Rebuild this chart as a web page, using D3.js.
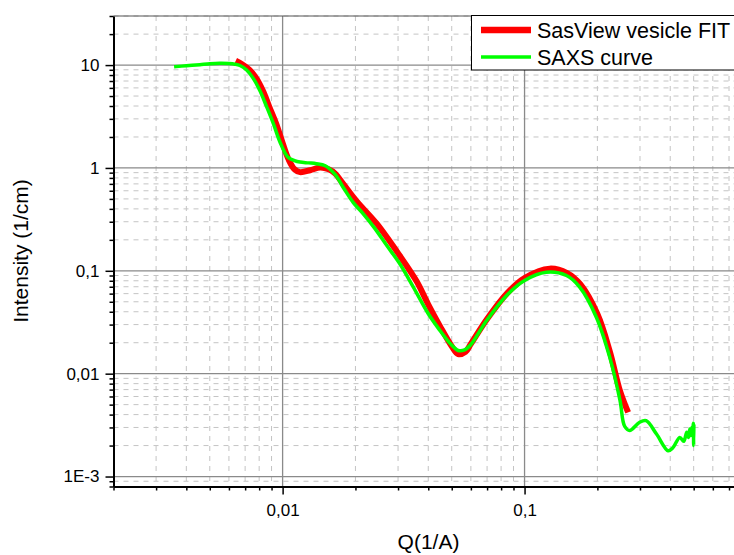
<!DOCTYPE html>
<html>
<head>
<meta charset="utf-8">
<script src="https://cdn.jsdelivr.net/npm/d3@7"></script>
<style>
  body { margin: 0; background: #fff; }
  svg { display: block; }
  text { font-family: "Liberation Sans", Arial, sans-serif; fill: #000; }
</style>
</head>
<body>
<div id="chart"></div>
<script>
// SasView fit (red)
const fitQ = [0.0064, 0.0068, 0.0073, 0.0078, 0.0083, 0.0088, 0.0094, 0.0100, 0.0106, 0.0112,
              0.0118, 0.0130, 0.0143, 0.0155, 0.0165, 0.0178, 0.0203, 0.0244, 0.0305, 0.0358,
              0.040, 0.0447, 0.050, 0.0532, 0.057, 0.060, 0.070, 0.085, 0.100, 0.127,
              0.150, 0.170, 0.200, 0.225, 0.248, 0.268];
const fitI = [11.0, 10.2, 9.0, 7.4, 5.6, 3.95, 2.7, 1.75, 1.2, 0.97,
              0.91, 0.95, 1.01, 0.97, 0.88, 0.70, 0.47, 0.29, 0.14, 0.079,
              0.047, 0.029, 0.0185, 0.0155, 0.0163, 0.0195, 0.034, 0.061, 0.085, 0.105,
              0.095, 0.074, 0.038, 0.0165, 0.0068, 0.0042];

// measured SAXS curve (green)
const saxsQ = [0.00356, 0.0040, 0.00455, 0.0050, 0.0055, 0.0060, 0.00635, 0.00666, 0.0071, 0.00756,
               0.00806, 0.00859, 0.00915, 0.00975, 0.0105, 0.0112, 0.0118, 0.0128, 0.0138, 0.0150,
               0.0165, 0.0180, 0.0196, 0.0215, 0.0240, 0.0270, 0.0305, 0.0347, 0.0400, 0.0447,
               0.0492, 0.0532, 0.0565, 0.0600, 0.0697, 0.0843, 0.100, 0.123, 0.149, 0.169,
               0.198, 0.225, 0.248, 0.259, 0.272, 0.299, 0.318, 0.351, 0.392, 0.410,
               0.438, 0.455, 0.468, 0.476, 0.482, 0.487, 0.491, 0.495, 0.498, 0.500, 0.501];
const saxsI = [9.65, 9.85, 10.1, 10.3, 10.4, 10.35, 10.2, 9.9, 8.94, 7.42,
               5.62, 3.93, 2.71, 1.79, 1.28, 1.18, 1.14, 1.12, 1.10, 1.05,
               0.86, 0.62, 0.46, 0.36, 0.26, 0.175, 0.117, 0.0694, 0.0382, 0.0263,
               0.0197, 0.0168, 0.0170, 0.0192, 0.0329, 0.0576, 0.0806, 0.097, 0.090, 0.0694,
               0.0354, 0.0144, 0.0055, 0.0031, 0.0028, 0.00337, 0.00349, 0.00259, 0.00178, 0.0019,
               0.0024, 0.0022, 0.0027, 0.0024, 0.0029, 0.0025, 0.0030, 0.0026, 0.0033, 0.0020, 0.0032];

const xMajorTicks = [0.01, 0.1];
const xTickLabels = ["0,01", "0,1"];
const yMajorTicks = [0.001, 0.01, 0.1, 1, 10];
const yTickLabels = ["1E-3", "0,01", "0,1", "1", "10"];
const seriesNames = ["SasView vesicle FIT", "SAXS curve"];
const seriesColors = ["#ff0000", "#00ff00"];

const W = 734, H = 555;

const svg = d3.select("#chart")
    .append("svg")
    .attr("width", W)
    .attr("height", H);

const x = d3.scaleLog().domain([0.002, 1]).range([113.5, 766.5]);
const y = d3.scaleLog().domain([0.0008, 30]).range([486.5, 16]);

const plotTop = y.range()[1], plotBottom = y.range()[0], plotLeft = x.range()[0];

// minor tick positions 2..9 per decade, inside the domain
function minorTicks(scale, d0, d1) {
    const out = [];
    const [lo, hi] = scale.domain();
    for (let d = d0; d <= d1; d++) {
        for (let k = 2; k <= 9; k++) {
            const v = k * Math.pow(10, d);
            if (v >= lo * 0.999 && v <= hi * 1.001) out.push(v);
        }
    }
    return out;
}
const xMinor = minorTicks(x, -3, -1);
const yMinor = minorTicks(y, -4, 1);

// grid
const grid = svg.append("g");
grid.selectAll(".xminor").data(xMinor).enter().append("line")
    .attr("x1", d => x(d)).attr("x2", d => x(d))
    .attr("y1", plotTop).attr("y2", plotBottom)
    .attr("stroke", "#c4c4c4").attr("stroke-width", 1).attr("stroke-dasharray", "5,5");
grid.selectAll(".yminor").data(yMinor).enter().append("line")
    .attr("x1", plotLeft).attr("x2", W)
    .attr("y1", d => y(d)).attr("y2", d => y(d))
    .attr("stroke", "#c4c4c4").attr("stroke-width", 1).attr("stroke-dasharray", "5,5");
grid.selectAll(".xmajor").data(xMajorTicks).enter().append("line")
    .attr("x1", d => x(d)).attr("x2", d => x(d))
    .attr("y1", plotTop).attr("y2", plotBottom)
    .attr("stroke", "#8a8a8a").attr("stroke-width", 1.3);
grid.selectAll(".ymajor").data(yMajorTicks).enter().append("line")
    .attr("x1", plotLeft).attr("x2", W)
    .attr("y1", d => y(d)).attr("y2", d => y(d))
    .attr("stroke", "#8a8a8a").attr("stroke-width", 1.3);

// top frame line
svg.append("line")
    .attr("x1", plotLeft).attr("x2", W)
    .attr("y1", plotTop).attr("y2", plotTop)
    .attr("stroke", "#555").attr("stroke-width", 1.2);

// curves
const line = d3.line()
    .x(d => x(d[0]))
    .y(d => y(d[1]))
    .curve(d3.curveCatmullRom.alpha(0.5));

svg.append("path")
    .datum(fitQ.map((q, i) => [q, fitI[i]]))
    .attr("d", line)
    .attr("fill", "none")
    .attr("stroke", seriesColors[0])
    .attr("stroke-width", 6);

svg.append("path")
    .datum(saxsQ.map((q, i) => [q, saxsI[i]]))
    .attr("d", line)
    .attr("fill", "none")
    .attr("stroke", seriesColors[1])
    .attr("stroke-width", 3.5)
    .attr("stroke-linejoin", "round");

// axes
svg.append("g")
    .attr("transform", `translate(0,${plotBottom})`)
    .call(d3.axisBottom(x).tickValues(xMajorTicks).tickSize(8).tickSizeOuter(0).tickPadding(9)
        .tickFormat((d, i) => xTickLabels[i]));
svg.append("g")
    .attr("transform", `translate(0,${plotBottom})`)
    .call(d3.axisBottom(x).tickValues(xMinor).tickSize(4).tickFormat(""))
    .call(g => g.select(".domain").remove());

svg.append("g")
    .attr("transform", `translate(${plotLeft},0)`)
    .call(d3.axisLeft(y).tickValues(yMajorTicks).tickSize(8).tickSizeOuter(0).tickPadding(6)
        .tickFormat((d, i) => yTickLabels[i]));
svg.append("g")
    .attr("transform", `translate(${plotLeft},0)`)
    .call(d3.axisLeft(y).tickValues(yMinor).tickSize(4).tickFormat(""))
    .call(g => g.select(".domain").remove());

svg.selectAll(".domain").attr("stroke", "#000").attr("stroke-width", 2);
svg.selectAll(".tick line").attr("stroke", "#000").attr("stroke-width", 1.5);
svg.selectAll(".tick text")
    .style("font-family", "'Liberation Sans', Arial, sans-serif")
    .style("font-size", "17px");

// axis titles
svg.append("text")
    .attr("x", 428.5)
    .attr("y", 548.5)
    .attr("text-anchor", "middle")
    .style("font-size", "21px")
    .text("Q(1/A)");

svg.append("text")
    .attr("transform", "translate(27.5,251) rotate(-90)")
    .attr("text-anchor", "middle")
    .style("font-size", "21px")
    .text("Intensity (1/cm)");

// legend
const legend = svg.append("g");
legend.append("rect")
    .attr("x", 471.5).attr("y", 15.5)
    .attr("width", 280).attr("height", 54.5)
    .attr("fill", "#fff").attr("stroke", "#000").attr("stroke-width", 1);
const legendRows = [30, 57];
const legendWidths = [6.5, 3.5];
seriesNames.forEach((name, i) => {
    legend.append("line")
        .attr("x1", 481).attr("x2", 531)
        .attr("y1", legendRows[i]).attr("y2", legendRows[i])
        .attr("stroke", seriesColors[i])
        .attr("stroke-width", legendWidths[i]);
    legend.append("text")
        .attr("x", 537)
        .attr("y", legendRows[i] + 7.5)
        .style("font-size", "21.5px")
        .text(name);
});
</script>
</body>
</html>
